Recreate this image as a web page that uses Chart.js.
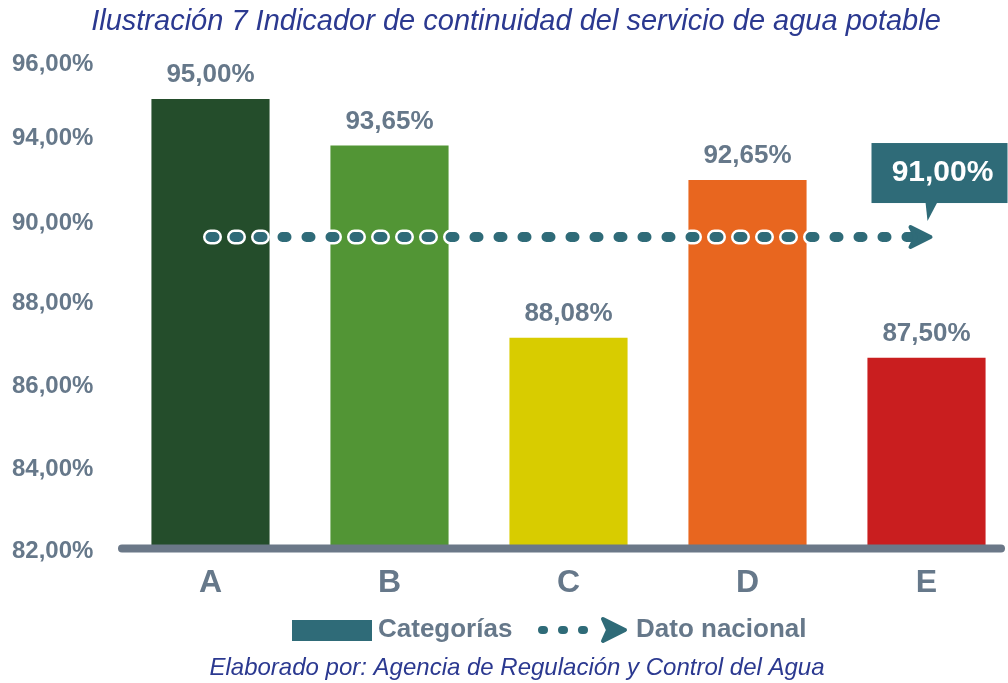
<!DOCTYPE html>
<html lang="es">
<head>
<meta charset="UTF-8">
<title>Indicador de continuidad del servicio de agua potable</title>
<script src="https://cdn.jsdelivr.net/npm/chart.js"></script>
<style>
    body { margin: 0; background: #fff; overflow: hidden; }
    #wrap { width: 1008px; height: 683px; overflow: hidden; }
</style>
</head>
<body>
<div id="wrap"><canvas id="chart" width="1024" height="683"></canvas></div>
<script>
    // data
    const categories = ['A', 'B', 'C', 'D', 'E'];
    const categoryValues = [95.00, 93.65, 88.08, 92.65, 87.50];
    const barColors = ['#244d2b', '#529535', '#d8cc00', '#e8661f', '#c91e1f'];
    const nationalValue = 91.00;
    // where the (hand placed) axis labels sit on the value axis
    const tickValues = [81.88, 84.26, 86.67, 89.08, 91.4, 93.87, 96];
    const tickLabels = ['82,00%', '84,00%', '86,00%', '88,00%', '90,00%', '94,00%', '96,00%'];

    const titleText = 'Ilustración 7 Indicador de continuidad del servicio de agua potable';
    const sourceText = 'Elaborado por: Agencia de Regulación y Control del Agua';

    const FONT = "'Liberation Sans', Arial, sans-serif";
    const GREY = '#66788a';
    const TEAL = '#2f6b78';
    const BLUE = '#2b3990';

    const pct = v => v.toFixed(2).replace('.', ',') + '%';
    const nationalLine = categories.map(() => nationalValue);

    function arrowHead(ctx, tipX, y, len, half) {
        ctx.save();
        ctx.fillStyle = TEAL;
        ctx.strokeStyle = TEAL;
        ctx.lineWidth = 4;
        ctx.lineJoin = 'round';
        ctx.beginPath();
        ctx.moveTo(tipX - 2, y);
        ctx.lineTo(tipX - len, y - half);
        ctx.lineTo(tipX - len + 5, y);
        ctx.lineTo(tipX - len, y + half);
        ctx.closePath();
        ctx.fill();
        ctx.stroke();
        ctx.restore();
    }

    const decor = {
        id: 'decor',
        afterDatasetsDraw(chart) {
            const { ctx, chartArea } = chart;
            ctx.save();

            // base line
            ctx.strokeStyle = '#6b7888';
            ctx.lineWidth = 8;
            ctx.lineCap = 'round';
            ctx.beginPath();
            ctx.moveTo(chartArea.left + 1, chartArea.bottom + 1);
            ctx.lineTo(1001, chartArea.bottom + 1);
            ctx.stroke();

            // value labels over bars
            const bars = chart.getDatasetMeta(2).data;
            ctx.fillStyle = GREY;
            ctx.font = `bold 26px ${FONT}`;
            ctx.textAlign = 'center';
            ctx.textBaseline = 'middle';
            bars.forEach((b, i) => ctx.fillText(pct(categoryValues[i]), b.x, b.y - 24));

            // arrow head and callout for national value
            const pts = chart.getDatasetMeta(0).data;
            const p = pts[pts.length - 1];
            arrowHead(ctx, p.x + 6, p.y, 22, 10);

            ctx.fillStyle = TEAL;
            ctx.fillRect(p.x - 55, p.y - 94, 136, 60);
            ctx.beginPath();
            ctx.moveTo(p.x - 1, p.y - 35);
            ctx.lineTo(p.x + 11, p.y - 35);
            ctx.lineTo(p.x + 1, p.y - 16);
            ctx.closePath();
            ctx.fill();
            ctx.fillStyle = '#fff';
            ctx.font = `bold 30px ${FONT}`;
            ctx.fillText(pct(nationalValue), p.x + 16, p.y - 64);

            // title and source
            ctx.fillStyle = BLUE;
            ctx.font = `italic 29px ${FONT}`;
            ctx.fillText(titleText, 516, 22);
            ctx.font = `italic 24px ${FONT}`;
            ctx.fillText(sourceText, 517, 668);

            // legend
            ctx.fillStyle = TEAL;
            ctx.fillRect(292, 620, 80, 21);
            ctx.strokeStyle = TEAL;
            ctx.lineWidth = 8;
            ctx.setLineDash([2, 18]);
            ctx.beginPath();
            ctx.moveTo(542, 630);
            ctx.lineTo(596, 630);
            ctx.stroke();
            ctx.setLineDash([]);
            arrowHead(ctx, 627, 630, 24, 11);
            ctx.fillStyle = GREY;
            ctx.font = `bold 26px ${FONT}`;
            ctx.textAlign = 'left';
            ctx.fillText('Categorías', 378, 630);
            ctx.fillText('Dato nacional', 636, 630);

            ctx.restore();
        }
    };

    new Chart(document.getElementById('chart'), {
        type: 'bar',
        data: {
            labels: categories,
            datasets: [
                {
                    type: 'line',
                    label: 'Dato nacional',
                    data: nationalLine,
                    borderColor: TEAL,
                    borderWidth: 10,
                    borderDash: [4, 20],
                    borderCapStyle: 'round',
                    pointRadius: 0,
                    fill: false,
                    order: 1
                },
                {
                    type: 'line',
                    label: 'contorno',
                    data: nationalLine,
                    borderColor: '#ffffff',
                    borderWidth: 15,
                    borderDash: [4, 20],
                    borderCapStyle: 'round',
                    pointRadius: 0,
                    fill: false,
                    order: 2
                },
                {
                    label: 'Categorías',
                    data: categoryValues,
                    backgroundColor: barColors,
                    barPercentage: 0.66,
                    categoryPercentage: 1,
                    order: 3
                }
            ]
        },
        options: {
            responsive: false,
            animation: false,
            layout: { padding: { left: 12, right: 8, top: 50, bottom: 65 } },
            plugins: {
                legend: { display: false },
                tooltip: { enabled: false }
            },
            scales: {
                x: {
                    grid: { display: false, drawTicks: false },
                    border: { display: false },
                    ticks: {
                        color: GREY,
                        padding: 16,
                        font: { family: FONT, size: 32, weight: 'bold' }
                    }
                },
                y: {
                    min: 82,
                    max: 96.42,
                    grid: { display: false, drawTicks: false },
                    border: { display: false },
                    afterBuildTicks: s => { s.ticks = tickValues.map(v => ({ value: v })); },
                    afterFit: s => { s.width = 109; },
                    ticks: {
                        color: GREY,
                        crossAlign: 'far',
                        font: { family: FONT, size: 24, weight: 'bold' },
                        callback: (v, i) => tickLabels[i]
                    }
                }
            }
        },
        plugins: [decor]
    });
</script>
</body>
</html>
